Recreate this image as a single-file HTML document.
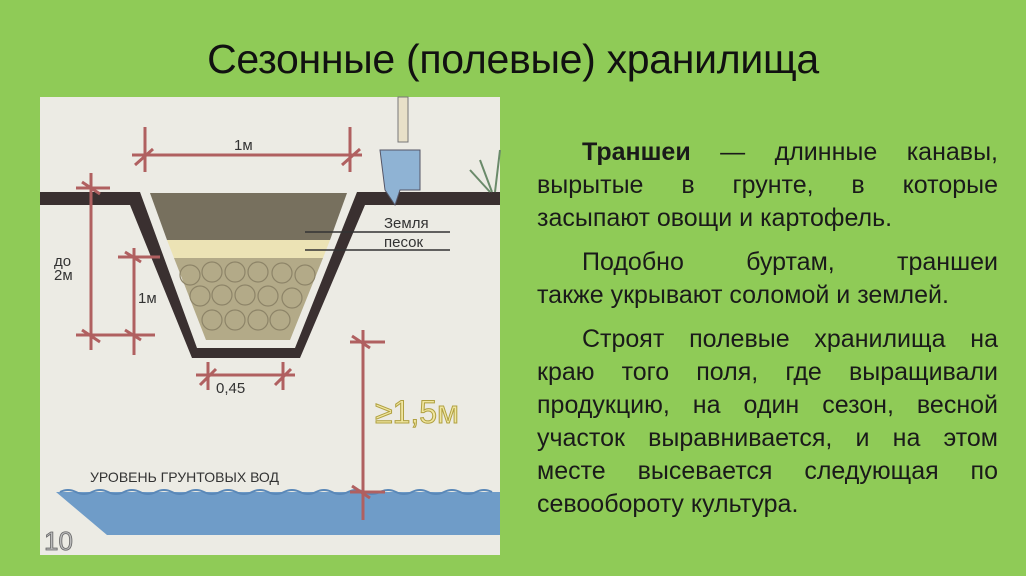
<!DOCTYPE html>
<html><head><meta charset="utf-8"><style>
body{margin:0;width:1026px;height:576px;background:#8fcb57;overflow:hidden;font-family:"Liberation Sans","DejaVu Sans",sans-serif;position:relative}
h1{position:absolute;top:36px;left:0;width:1026px;margin:0;text-align:center;font-weight:normal;font-size:41px;color:#111;letter-spacing:-0.3px}
.t{position:absolute;left:537px;top:136px;width:461px;font-size:25px;line-height:33px;color:#1a1a1a}
.t div{text-align:justify;text-align-last:justify;white-space:nowrap}
.t div.l{text-align-last:left}
.t div.i{padding-left:45px}
.t div.g{margin-top:11px}
svg{position:absolute;left:0;top:0}
</style></head><body>
<h1>Сезонные (полевые) хранилища</h1>
<svg width="1026" height="576">
<rect x="40" y="97" width="460" height="458" fill="#ecebe4"/>
<path d="M56 492 L500 492 L500 535 L107 535 Z" fill="#6f9cc8"/>
<path d="M60 492 q8 -4 16 0 t16 0 t16 0 t16 0 t16 0 t16 0 t16 0 t16 0 t16 0 t16 0 t16 0 t16 0 t16 0 t16 0 t16 0 t16 0 t16 0 t16 0 t16 0 t16 0 t16 0 t16 0 t16 0 t16 0 t16 0 t16 0 t16 0" fill="none" stroke="#5a88b8" stroke-width="2"/>
<text x="44" y="550" font-size="26" fill="#bbb" stroke="#666" stroke-width="0.8">10</text>
<path d="M40 192 L140 192 L197 348 L295 348 L357 192 L500 192 L500 205 L365 205 L300 358 L192 358 L130 205 L40 205 Z" fill="#3a3030"/>
<path d="M150 193 L347 193 L290 340 L206 340 Z" fill="#d8d2b8"/>
<path d="M150 193 L347 193 L330 240 L167 240 Z" fill="#77705e"/>
<path d="M167 240 L330 240 L323 258 L174 258 Z" fill="#ece3b5"/>
<path d="M174 258 L323 258 L290 340 L206 340 Z" fill="#b3aa88"/>
<g fill="none" stroke="#8d8468" stroke-width="1.2">
<circle cx="190" cy="275" r="10"/><circle cx="212" cy="272" r="10"/><circle cx="235" cy="272" r="10"/><circle cx="258" cy="272" r="10"/><circle cx="282" cy="273" r="10"/><circle cx="305" cy="275" r="10"/>
<circle cx="200" cy="296" r="10"/><circle cx="222" cy="295" r="10"/><circle cx="245" cy="295" r="10"/><circle cx="268" cy="296" r="10"/><circle cx="292" cy="298" r="10"/>
<circle cx="212" cy="320" r="10"/><circle cx="235" cy="320" r="10"/><circle cx="258" cy="320" r="10"/><circle cx="280" cy="320" r="10"/>
</g>
<rect x="398" y="97" width="10" height="45" fill="#e8e0c8" stroke="#777"/>
<path d="M380 150 L420 150 L420 190 L400 190 L395 205 L385 190 Z" fill="#8fb3d4" stroke="#556"/>
<path d="M470 170 l20 22 M480 160 l12 32 M500 150 l-5 42" stroke="#6a8a6a" stroke-width="2"/>
<path d="M305 232 L450 232 M305 250 L450 250" stroke="#333" stroke-width="1.5"/>
<g font-size="15" fill="#333" font-family="'Liberation Sans',sans-serif">
<text x="384" y="228">Земля</text><text x="384" y="247">песок</text>
<text x="234" y="150">1м</text>
<text x="54" y="266">до</text><text x="54" y="280">2м</text>
<text x="138" y="303">1м</text>
<text x="216" y="393">0,45</text>
<text x="90" y="482" font-size="14">УРОВЕНЬ ГРУНТОВЫХ ВОД</text>
</g>
<text x="375" y="423" font-size="32" fill="#f0e6a0" stroke="#b0a040" stroke-width="1" font-family="'Liberation Sans',sans-serif">≥1,5м</text>
<g stroke="#b06060" stroke-width="3" fill="none">
<path d="M132 155 L362 155 M145 127 V172 M350 127 V172 M135 165 l18 -16 M342 165 l18 -16"/>
<path d="M91 173 V350 M76 188 L110 188 M76 335 L155 335 M134 248 V355 M118 257 L160 257 M82 182 l18 12 M82 330 l18 12 M125 252 l16 10 M125 330 l16 10"/>
<path d="M196 375 L295 375 M208 362 V390 M283 362 V390 M200 385 l16 -16 M275 385 l16 -16"/>
<path d="M363 330 V520 M350 342 L385 342 M350 492 L385 492 M352 336 l18 12 M352 486 l18 12"/>
</g>
</svg>
<div class="t">
<div class="i"><b>Траншеи</b> — длинные канавы,</div>
<div>вырытые в грунте, в которые</div>
<div class="l">засыпают овощи и картофель.</div>
<div class="i g">Подобно буртам, траншеи</div>
<div class="l">также укрывают соломой и землей.</div>
<div class="i g">Строят полевые хранилища на</div>
<div>краю того поля, где выращивали</div>
<div>продукцию, на один сезон, весной</div>
<div>участок выравнивается, и на этом</div>
<div>месте высевается следующая по</div>
<div class="l">севообороту культура.</div>
</div>
</body></html>
